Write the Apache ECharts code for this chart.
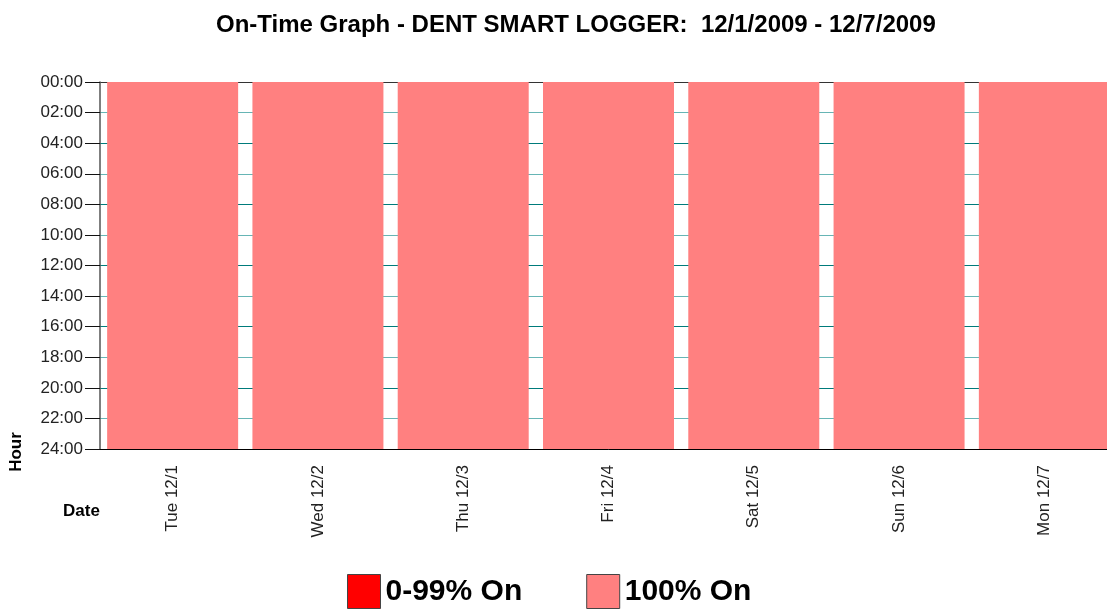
<!DOCTYPE html>
<html>
<head>
<meta charset="utf-8">
<script src="https://cdn.jsdelivr.net/npm/echarts@6/dist/echarts.min.js"></script>
<style>
  html, body { margin: 0; padding: 0; background: #fff; overflow: hidden; }
  /* 图表区域右侧略超出窗口 */
  #chart { width: 1117px; height: 609px; }
</style>
</head>
<body>
<div id="chart"></div>
<script>
// 日期分类
const days = ["Tue 12/1", "Wed 12/2", "Thu 12/3", "Fri 12/4", "Sat 12/5", "Sun 12/6", "Mon 12/7"];
// 小时数 (每天 24 小时)
const fullOnHours = [24, 24, 24, 24, 24, 24, 24];
const partOnHours = [0, 0, 0, 0, 0, 0, 0];
// y 轴刻度 0..24, 间隔 2
const hourMin = 0;
const hourMax = 24;
const hourStep = 2;

const font = "'Liberation Sans', Arial, sans-serif";

let chartDom = document.getElementById("chart");
let myChart = echarts.init(chartDom);

const light = "#66b5b5";
const dark = "#007b7b";

let option = {
  animation: false,
  title: {
    text: "On-Time Graph - DENT SMART LOGGER:  12/1/2009 - 12/7/2009",
    left: 211,
    top: 8,
    textStyle: { fontFamily: font, fontSize: 24, fontWeight: "bold", color: "#000" },
  },
  grid: {
    left: 100,
    top: 82,
    right: 0,
    height: 367,
    containLabel: false,
  },
  legend: {
    left: 347,
    top: 574,
    padding: 0,
    icon: "rect",
    itemWidth: 33,
    itemHeight: 34,
    itemGap: 64,
    itemStyle: { borderColor: "#444", borderWidth: 1 },
    textStyle: { fontFamily: font, fontSize: 30, fontWeight: "bold", color: "#000" },
    data: ["0-99% On", "100% On"],
  },
  xAxis: {
    type: "category",
    data: days,
    axisLine: { onZero: false, lineStyle: { color: "#000", width: 1 } },
    axisTick: { alignWithLabel: true, length: 11, lineStyle: { color: "#000" } },
    axisLabel: {
      rotate: 90,
      margin: 16,
      fontFamily: font,
      fontSize: 17,
      color: "#222",
    },
    splitLine: { show: false },
  },
  yAxis: {
    type: "value",
    inverse: true,
    min: hourMin,
    max: hourMax,
    interval: hourStep,
    axisLine: { show: true, lineStyle: { color: "#555", width: 1.5 } },
    axisTick: { show: true, length: 15, lineStyle: { color: "#111" } },
    axisLabel: {
      margin: 17,
      fontFamily: font,
      fontSize: 17,
      color: "#222",
      formatter: function (v) {
        return (v < 10 ? "0" : "") + v + ":00";
      },
    },
    splitLine: {
      show: true,
      lineStyle: {
        width: 1,
        color: ["#333", light, dark, light, dark, light, dark, light, dark, light, dark, light, dark],
      },
    },
  },
  graphic: [
    {
      type: "text",
      left: 63,
      top: 503,
      style: { text: "Date", font: "bold 17px " + font, fill: "#000" },
    },
    {
      type: "text",
      x: 16,
      y: 452,
      rotation: Math.PI / 2,
      style: {
        text: "Hour",
        font: "bold 17px " + font,
        fill: "#000",
        align: "center",
        verticalAlign: "middle",
      },
    },
  ],
  series: [
    {
      name: "0-99% On",
      type: "bar",
      stack: "on",
      barWidth: 131,
      itemStyle: { color: "#ff0000" },
      data: partOnHours,
    },
    {
      name: "100% On",
      type: "bar",
      stack: "on",
      barWidth: 131,
      itemStyle: { color: "#ff8080" },
      data: fullOnHours,
    },
  ],
};

myChart.setOption(option);
</script>
</body>
</html>
